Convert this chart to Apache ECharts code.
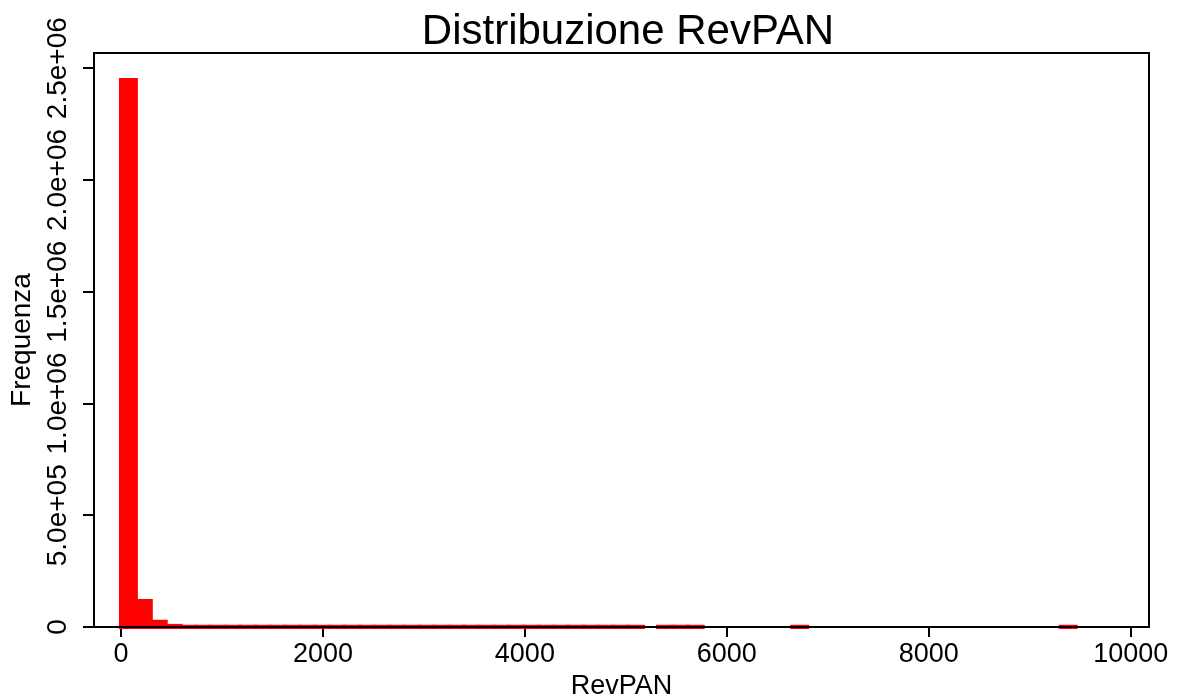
<!DOCTYPE html>
<html>
<head>
<meta charset="utf-8">
<script src="https://cdn.jsdelivr.net/npm/echarts@6/dist/echarts.min.js"></script>
<style>html,body{margin:0;padding:0;background:#fff}#c{width:1178px;height:695px}</style>
</head>
<body>
<div id="c"></div>
<script>
// Histogram of RevPAN: 64 equal-width bins from 0 to ~9455
const binWidth = 147.73;
const counts = [
  2447000, 116000, 23000, 5000,
  1000, 1000, 1000, 1000, 1000, 1000, 1000, 1000, 1000, 1000,
  1000, 1000, 1000, 1000, 1000, 1000, 1000, 1000, 1000, 1000,
  1000, 1000, 1000, 1000, 1000, 1000, 1000, 1000, 1000, 1000,
  1000, 0, 1000, 1000, 1000, 0, 0, 0, 0, 0,
  0, 1000, 0, 0, 0, 0, 0, 0, 0, 0,
  0, 0, 0, 0, 0, 0, 0, 0, 0, 1000
];
const xTicks = [0, 2000, 4000, 6000, 8000, 10000];
const yTicks = [0, 500000, 1000000, 1500000, 2000000, 2500000];
const yTickLabels = ["0", "5.0e+05", "1.0e+06", "1.5e+06", "2.0e+06", "2.5e+06"];

const data = [];
counts.forEach((c, i) => {
  if (c > 0) data.push([i * binWidth, (i + 1) * binWidth, c]);
});

const chart = echarts.init(document.getElementById('c'), null, {renderer: 'canvas'});
const font = 'Liberation Sans, Arial, Helvetica, sans-serif';
chart.setOption({
  animation: false,
  backgroundColor: '#ffffff',
  title: {
    text: 'Distribuzione RevPAN',
    left: 623, top: 6, textAlign: 'center',
    textStyle: {fontFamily: font, fontSize: 42, fontWeight: 'normal', color: '#000'}
  },
  grid: {
    left: 94, right: 29, top: 53, bottom: 68, z: 5,
    outerBoundsMode: 'none', containLabel: false,
    show: true, borderColor: '#000', borderWidth: 2, backgroundColor: 'transparent'
  },
  xAxis: {
    type: 'value', min: -267, max: 10181,
    name: 'RevPAN', nameLocation: 'middle', nameGap: 40,
    nameTextStyle: {fontFamily: font, fontSize: 27, color: '#000'},
    splitLine: {show: false},
    axisLine: {show: false, onZero: false},
    axisTick: {show: true, inside: false, customValues: xTicks, length: 10, lineStyle: {color: '#000', width: 2}},
    axisLabel: {customValues: xTicks, margin: 14, fontFamily: font, fontSize: 27, color: '#000',
      formatter: v => String(v)}
  },
  yAxis: {
    type: 'value', min: 0, max: 2568000,
    name: 'Frequenza', nameLocation: 'middle', nameGap: 52, nameRotate: 90,
    nameTextStyle: {fontFamily: font, fontSize: 28, color: '#000'},
    splitLine: {show: false},
    axisLine: {show: false, onZero: false},
    axisTick: {show: true, inside: false, customValues: yTicks, length: 11, lineStyle: {color: '#000', width: 2}},
    axisLabel: {customValues: yTicks, rotate: 90, margin: 22, fontFamily: font, fontSize: 28, color: '#000',
      formatter: v => yTickLabels[yTicks.indexOf(v)] !== undefined ? yTickLabels[yTicks.indexOf(v)] : ''}
  },
  series: [{
    type: 'custom',
    z: 2,
    data: data,
    encode: {x: [0, 1], y: 2},
    renderItem: function (params, api) {
      const x0 = api.value(0), x1 = api.value(1), v = api.value(2);
      const p0 = api.coord([x0, v]);
      const p1 = api.coord([x1, 0]);
      return {
        type: 'rect',
        shape: {x: p0[0], y: p0[1], width: p1[0] - p0[0], height: p1[1] - p0[1]},
        style: {fill: '#ff0000', stroke: '#ff0000', lineWidth: 4}
      };
    }
  }]
});
</script>
</body>
</html>
